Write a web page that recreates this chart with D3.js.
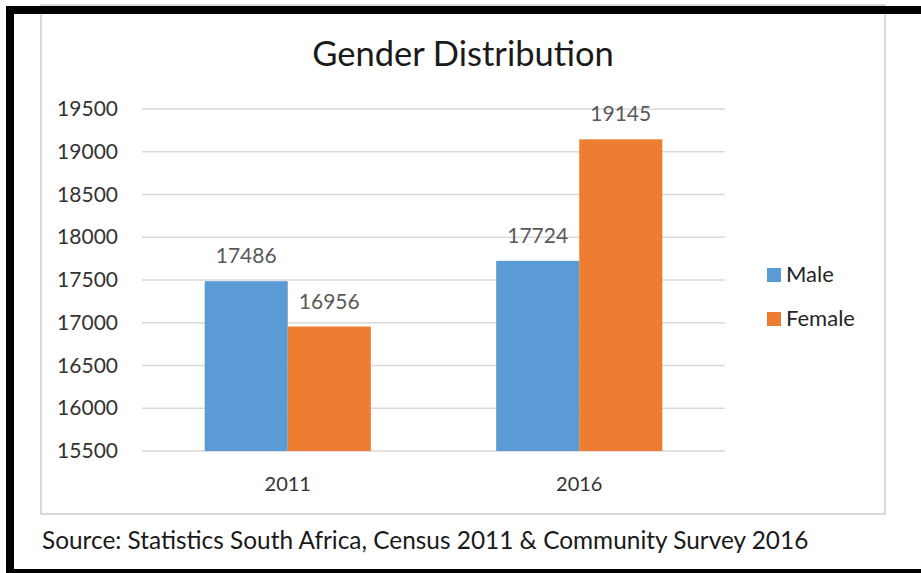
<!DOCTYPE html>
<html>
<head>
<meta charset="utf-8">
<script src="https://cdn.jsdelivr.net/npm/d3@7"></script>
<style>
  body { margin: 0; background: #fff; }
  svg { display: block; font-family: Lato, "Open Sans", sans-serif; }
</style>
</head>
<body>
<svg id="chart" width="921" height="573"></svg>
<script>
const years = ["2011", "2016"];
const seriesNames = ["Male", "Female"];
const maleValues = [17486, 17724];
const femaleValues = [16956, 19145];
const yTicks = [15500, 16000, 16500, 17000, 17500, 18000, 18500, 19000, 19500];
const titleText = "Gender Distribution";
const sourceText = "Source: Statistics South Africa, Census 2011 & Community Survey 2016";

const colors = { Male: "#5b9bd5", Female: "#ed7d31" };

const svg = d3.select("#chart");

// chart box border
svg.append("rect")
  .attr("x", 41).attr("y", 5)
  .attr("width", 844).attr("height", 509)
  .attr("fill", "none")
  .attr("stroke", "#d9d9d9")
  .attr("stroke-width", 2);

// outer black frame, only top, left and bottom sides are in view
const frame = svg.append("g").attr("stroke", "#000").attr("stroke-width", 8);
frame.append("line").attr("x1", 6).attr("x2", 921).attr("y1", 10).attr("y2", 10);
frame.append("line").attr("x1", 10).attr("x2", 10).attr("y1", 6).attr("y2", 573);
frame.append("line").attr("x1", 6).attr("x2", 921).attr("y1", 573).attr("y2", 573);

const plot = { left: 142, right: 725, top: 109, bottom: 451 };

const y = d3.scaleLinear()
  .domain([15500, 19500])
  .range([plot.bottom, plot.top]);

const x0 = d3.scaleBand()
  .domain(years)
  .range([plot.left, plot.right])
  .paddingInner(0.43)
  .paddingOuter(0.215);

const x1 = d3.scaleBand()
  .domain(seriesNames)
  .range([0, x0.bandwidth()]);

// gridlines
svg.append("g")
  .selectAll("line")
  .data(yTicks)
  .enter()
  .append("line")
  .attr("x1", plot.left)
  .attr("x2", plot.right)
  .attr("y1", (d) => y(d))
  .attr("y2", (d) => y(d))
  .attr("stroke", "#d9d9d9")
  .attr("stroke-width", 1.5);

// y axis labels
const yAxis = d3.axisLeft(y).tickValues(yTicks).tickFormat(d3.format("d")).tickSize(0).tickPadding(0);
const yg = svg.append("g")
  .attr("transform", "translate(118,0)")
  .call(yAxis);
yg.select(".domain").remove();
yg.selectAll("text")
  .attr("font-size", 21)
  .attr("fill", "#333")
  .attr("font-family", "Lato, sans-serif");

// x axis labels
const xAxis = d3.axisBottom(x0).tickSize(0).tickPadding(0);
const xg = svg.append("g")
  .attr("transform", "translate(0,477)")
  .call(xAxis);
xg.select(".domain").remove();
xg.selectAll("text")
  .attr("font-size", 20)
  .attr("fill", "#333")
  .attr("font-family", "Lato, sans-serif");

const rows = years.map((yr, i) => ({
  year: yr,
  values: [
    { key: "Male", value: maleValues[i] },
    { key: "Female", value: femaleValues[i] },
  ],
}));

const groups = svg.append("g")
  .selectAll("g")
  .data(rows)
  .enter()
  .append("g")
  .attr("transform", (d) => "translate(" + x0(d.year) + ",0)");

groups.selectAll("rect")
  .data((d) => d.values)
  .enter()
  .append("rect")
  .attr("x", (d) => x1(d.key))
  .attr("y", (d) => y(d.value))
  .attr("width", x1.bandwidth())
  .attr("height", (d) => plot.bottom - y(d.value))
  .attr("fill", (d) => colors[d.key]);

groups.selectAll("text")
  .data((d) => d.values)
  .enter()
  .append("text")
  .attr("x", (d) => x1(d.key) + x1.bandwidth() / 2)
  .attr("y", (d) => y(d.value) - 18)
  .attr("text-anchor", "middle")
  .attr("font-size", 21)
  .attr("fill", "#595959")
  .text((d) => d.value);

// title
svg.append("text")
  .attr("x", 463)
  .attr("y", 66)
  .attr("text-anchor", "middle")
  .attr("font-size", 34.5)
  .attr("fill", "#1a1a1a")
  .text(titleText);

// legend
const legend = svg.append("g")
  .selectAll("g")
  .data(seriesNames)
  .enter()
  .append("g")
  .attr("transform", (d, i) => "translate(767," + (268 + i * 44) + ")");

legend.append("rect")
  .attr("width", 14)
  .attr("height", 14)
  .attr("fill", (d) => colors[d]);

legend.append("text")
  .attr("x", 19)
  .attr("y", 14)
  .attr("font-size", 22)
  .attr("fill", "#262626")
  .text((d) => d);

// source note
svg.append("text")
  .attr("x", 42)
  .attr("y", 549)
  .attr("font-size", 24.4)
  .attr("fill", "#1a1a1a")
  .text(sourceText);
</script>
</body>
</html>
